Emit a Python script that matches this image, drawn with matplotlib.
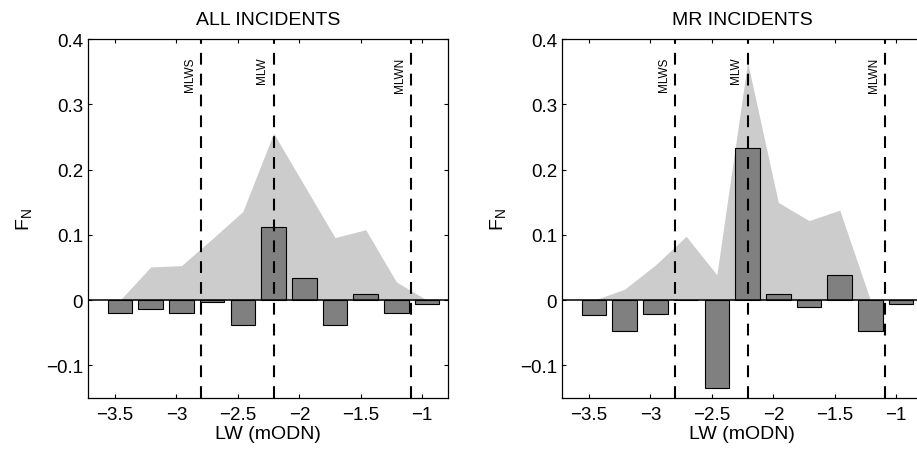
import matplotlib
matplotlib.use('Agg')
import matplotlib.pyplot as plt

plt.rcParams['font.family'] = ['Liberation Sans', 'DejaVu Sans']
plt.rcParams['mathtext.fontset'] = 'custom'
plt.rcParams['mathtext.rm'] = 'Liberation Sans'
plt.rcParams['mathtext.it'] = 'Liberation Sans'
plt.rcParams['lines.scale_dashes'] = False

# LW bin centres (mODN)
lw_bins = [-3.46, -3.21, -2.96, -2.71, -2.46, -2.21, -1.96, -1.71, -1.46, -1.21, -0.96]

# all incidents: background distribution (grey area) and F_N (bars)
all_bg = [0.0, 0.051, 0.053, 0.094, 0.136, 0.256, 0.176, 0.096, 0.108, 0.028, 0.0]
all_fn = [-0.019, -0.014, -0.020, -0.003, -0.038, 0.113, 0.034, -0.038, 0.009, -0.019, -0.005]

# MR incidents
mr_bg = [0.0, 0.017, 0.054, 0.098, 0.039, 0.365, 0.150, 0.122, 0.138, 0.0, 0.0]
mr_fn = [-0.022, -0.047, -0.021, 0.0, -0.135, 0.233, 0.010, -0.010, 0.039, -0.047, -0.005]

# tidal levels
tide_names = ['MLWS', 'MLW', 'MLWN']
tide_levels = [-2.80, -2.21, -1.09]

titles = ['ALL INCIDENTS', 'MR INCIDENTS']
xticks = [-3.5, -3, -2.5, -2, -1.5, -1]
xtick_labels = ['\u22123.5', '\u22123', '\u22122.5', '\u22122', '\u22121.5', '\u22121']
yticks = [-0.1, 0, 0.1, 0.2, 0.3, 0.4]
ytick_labels = ['\u22120.1', '0', '0.1', '0.2', '0.3', '0.4']

fig = plt.figure(figsize=(9.17, 4.52), dpi=100)
positions = [[0.096, 0.117, 0.3926, 0.794], [0.6129, 0.117, 0.3926, 0.794]]
panels = [(all_bg, all_fn), (mr_bg, mr_fn)]

for pos, title, (bg, fn) in zip(positions, titles, panels):
    ax = fig.add_axes(pos)
    ax.fill_between(lw_bins, 0, bg, color='#cccccc', lw=0, zorder=1)
    ax.bar(lw_bins, fn, width=0.2, color='#808080', edgecolor='k',
           linewidth=0.8, zorder=2)
    ax.axhline(0, color='k', lw=1.1, zorder=3)
    for name, lvl in zip(tide_names, tide_levels):
        ax.axvline(lvl, color='k', lw=1.5, dashes=(8.5, 6.5), zorder=4)
        ax.text(lvl - 0.045, 0.373, name, rotation=90, ha='right', va='top',
                fontsize=8.5)

    ax.set_xlim(-3.72, -0.79)
    ax.set_ylim(-0.15, 0.4)
    ax.set_xticks(xticks)
    ax.set_xticklabels(xtick_labels)
    ax.set_yticks(yticks)
    ax.set_yticklabels(ytick_labels)
    ax.tick_params(direction='in', top=True, right=True, length=3, width=0.8,
                   labelsize=13.5, pad=3.5)
    ax.tick_params(axis='x', pad=6)
    for s in ax.spines.values():
        s.set_linewidth(0.9)

    ax.set_title(title, fontsize=14, pad=11)
    ax.set_xlabel('LW (mODN)', fontsize=14, labelpad=1)
    ax.set_ylabel(r'$\mathregular{F_N}$', fontsize=14)
    ax.yaxis.set_label_coords(-0.15, 0.5)

fig.savefig('out.png', dpi=100)
